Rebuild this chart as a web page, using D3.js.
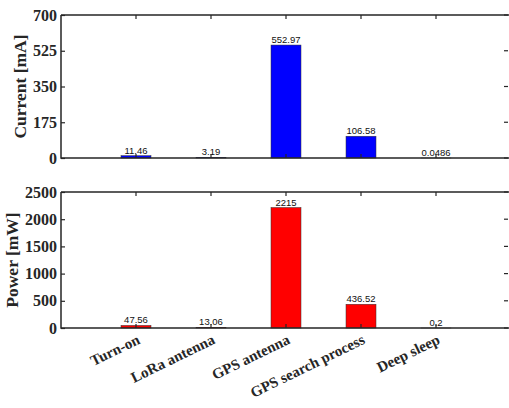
<!DOCTYPE html>
<html>
<head>
<meta charset="utf-8">
<script src="https://cdn.jsdelivr.net/npm/d3@7.9.0/dist/d3.min.js"></script>
<style>
  body { margin: 0; background: #fff; }
  svg { display: block; }
</style>
</head>
<body>
<svg id="chart" width="509" height="408"></svg>
<script>
const categories = ['Turn-on', 'LoRa antenna', 'GPS antenna', 'GPS search process', 'Deep sleep'];
const currentValues = [11.46, 3.19, 552.97, 106.58, 0.0486];
const currentLabels = ['11.46', '3.19', '552.97', '106.58', '0.0486'];
const powerValues = [47.56, 13.06, 2215, 436.52, 0.2];
const powerLabels = ['47.56', '13.06', '2215', '436.52', '0.2'];
const currentTicks = [0, 175, 350, 525, 700];
const powerTicks = [0, 500, 1000, 1500, 2000, 2500];

const svg = d3.select('#chart');
const axisColor = '#262626';
const serif = '"Liberation Serif", "Times New Roman", serif';

// x positions like matlab: xlim [0, 6], bars at 1..5
const x = d3.scaleLinear().domain([0, 6]).range([61, 511]);
const barW = 0.4 * (x(1) - x(0));

function drawPanel(opts) {
  const { top, bottom, values, labels, ticks, max, color, title, titleX } = opts;
  const y = d3.scaleLinear().domain([0, max]).range([bottom, top]);
  const g = svg.append('g');

  // bars
  g.selectAll('rect.bar').data(values).join('rect')
    .attr('class', 'bar')
    .attr('x', (d, i) => x(i + 1) - barW / 2)
    .attr('width', barW)
    .attr('y', d => y(d))
    .attr('height', d => bottom - y(d))
    .attr('fill', color)
    .attr('stroke', '#333')
    .attr('stroke-width', 0.5);

  // value labels
  g.selectAll('text.val').data(values).join('text')
    .attr('class', 'val')
    .attr('x', (d, i) => x(i + 1))
    .attr('y', d => y(d) - 2)
    .attr('text-anchor', 'middle')
    .attr('font-family', 'Liberation Sans, Arial, sans-serif')
    .attr('font-size', 9.5)
    .attr('fill', '#111')
    .text((d, i) => labels[i]);

  // box frame
  g.append('path')
    .attr('d', `M${x(0)},${top}H${x(6)}M${x(0)},${top}V${bottom}H${x(6)}`)
    .attr('fill', 'none')
    .attr('stroke', axisColor)
    .attr('stroke-width', 1.5);

  // inner ticks on x (top and bottom)
  const tickLen = 4;
  d3.range(1, 6).forEach(i => {
    g.append('line').attr('x1', x(i)).attr('x2', x(i))
      .attr('y1', bottom).attr('y2', bottom - tickLen)
      .attr('stroke', axisColor).attr('stroke-width', 1.2);
    g.append('line').attr('x1', x(i)).attr('x2', x(i))
      .attr('y1', top).attr('y2', top + tickLen)
      .attr('stroke', axisColor).attr('stroke-width', 1.2);
  });

  // y axis with inner ticks and labels
  const yAxis = d3.axisLeft(y).tickValues(ticks).tickFormat(d3.format('d'))
    .tickSize(-tickLen).tickPadding(4);
  const ya = g.append('g').attr('transform', `translate(${x(0)},0)`).call(yAxis);
  ya.select('.domain').remove();
  ya.selectAll('line').attr('stroke', axisColor).attr('stroke-width', 1.2);
  ya.selectAll('text')
    .attr('font-family', serif)
    .attr('font-weight', 'bold')
    .attr('font-size', 16)
    .attr('fill', axisColor);

  // right side ticks
  ticks.forEach(t => {
    g.append('line').attr('x1', x(6) - 3).attr('x2', x(6) - 3 - tickLen)
      .attr('y1', y(t)).attr('y2', y(t))
      .attr('stroke', axisColor).attr('stroke-width', 1.2);
  });

  // y title
  g.append('text')
    .attr('transform', `translate(${titleX},${(top + bottom) / 2}) rotate(-90)`)
    .attr('text-anchor', 'middle')
    .attr('dominant-baseline', 'middle')
    .attr('font-family', serif)
    .attr('font-weight', 'bold')
    .attr('font-size', 17.5)
    .attr('fill', axisColor)
    .text(title);

  return y;
}

drawPanel({ top: 15, bottom: 158, values: currentValues, labels: currentLabels,
  ticks: currentTicks, max: 700, color: '#0000ff', title: 'Current [mA]', titleX: 22 });
drawPanel({ top: 192, bottom: 328, values: powerValues, labels: powerLabels,
  ticks: powerTicks, max: 2500, color: '#ff0000', title: 'Power [mW]', titleX: 14 });

// rotated category labels
svg.append('g').selectAll('text').data(categories).join('text')
  .attr('transform', (d, i) => `translate(${x(i + 1) + 5},${343}) rotate(-26)`)
  .attr('text-anchor', 'end')
  .attr('font-family', serif)
  .attr('font-weight', 'bold')
  .attr('font-size', 15)
  .attr('fill', axisColor)
  .text(d => d);
</script>
</body>
</html>
